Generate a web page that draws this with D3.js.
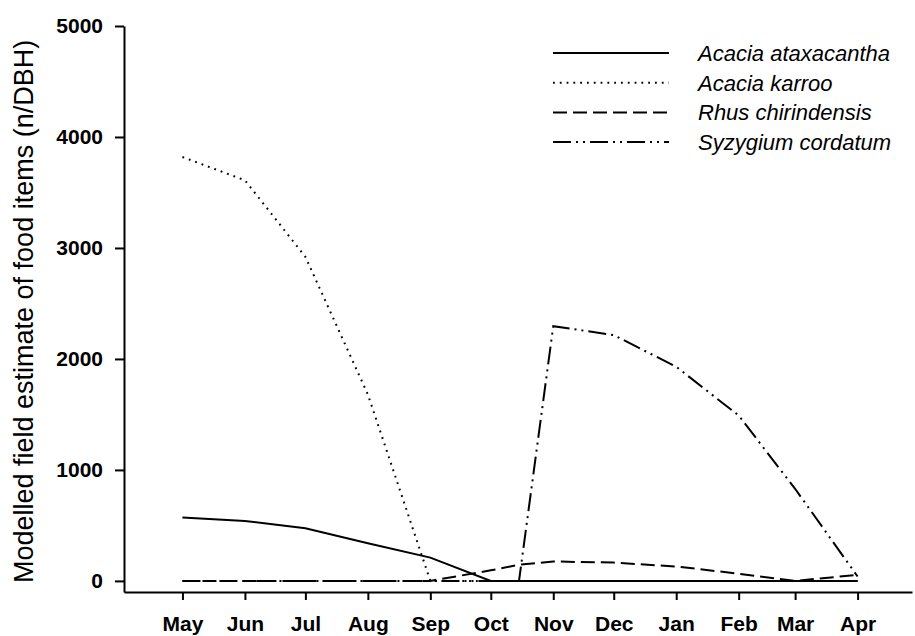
<!DOCTYPE html>
<html>
<head>
<meta charset="utf-8">
<script src="https://cdn.jsdelivr.net/npm/d3@7"></script>
<style>
  body { margin: 0; background: #fff; }
  svg text { font-family: "Liberation Sans", Arial, sans-serif; fill: #000; }
  .axis path, .axis line { stroke: #000; stroke-width: 2; }
  .axis text { font-size: 21px; font-weight: bold; }
  .series { fill: none; stroke: #000; }
</style>
</head>
<body>
<svg id="plot"></svg>
<script>
// sample dates (1st of each month, plus mid-October where S. cordatum starts)
var dates = ['2001-05-01', '2001-06-01', '2001-07-01', '2001-08-01', '2001-09-01',
    '2001-10-01', '2001-10-15', '2001-11-01', '2001-12-01', '2002-01-01',
    '2002-02-01', '2002-03-01', '2002-04-01'];

var tickDates = ['2001-05-01', '2001-06-01', '2001-07-01', '2001-08-01', '2001-09-01',
    '2001-10-01', '2001-11-01', '2001-12-01', '2002-01-01', '2002-02-01',
    '2002-03-01', '2002-04-01'];
var tickLabels = ['May', 'Jun', 'Jul', 'Aug', 'Sep', 'Oct', 'Nov', 'Dec', 'Jan', 'Feb', 'Mar', 'Apr'];

var yTicks = [0, 1000, 2000, 3000, 4000, 5000];

var ataxacantha = [572, 540, 475, 340, 210, 0, 0, 0, 0, 0, 0, 0, 0];
var karroo = [3820, 3610, 2920, 1680, 0, 0, 0, 0, 0, 0, 0, 0, 0];
var rhus = [0, 0, 0, 0, 0, 95, 145, 175, 165, 130, 65, 0, 55];
var syzygium = [0, 0, 0, 0, 0, 0, 0, 2295, 2215, 1930, 1490, 830, 40];

var speciesNames = ['Acacia ataxacantha', 'Acacia karroo', 'Rhus chirindensis', 'Syzygium cordatum'];

var yTitle = 'Modelled field estimate of food items (n/DBH)';

var width = 915, height = 636;
var parseTime = d3.timeParse('%Y-%m-%d');

var svg = d3.select('#plot').attr('width', width).attr('height', height);

var x = d3.scaleTime()
    .domain([parseTime('2001-04-02'), parseTime('2002-04-28')])
    .range([124, 912]);
var y = d3.scaleLinear().domain([-100, 5000]).range([592, 26]);

var dashes = ['none', '1.8,5', '14,6', '18,5,2,5,2,5'];

var series = [ataxacantha, karroo, rhus, syzygium].map(function(vals, i) {
    return {
        name: speciesNames[i],
        dash: dashes[i],
        points: vals.map(function(v, j) { return {date: parseTime(dates[j]), value: v}; })
    };
});

var line = d3.line()
    .x(function(d) { return x(d.date); })
    .y(function(d) { return y(d.value); });

// axes
svg.append('g')
    .attr('class', 'axis')
    .attr('transform', 'translate(0,' + y(-100) + ')')
    .call(d3.axisBottom(x)
        .tickValues(tickDates.map(parseTime))
        .tickFormat(function(d, i) { return tickLabels[i]; })
        .tickSize(8)
        .tickSizeOuter(0)
        .tickPadding(16));

svg.append('g')
    .attr('class', 'axis')
    .attr('transform', 'translate(' + x.range()[0] + ',0)')
    .call(d3.axisLeft(y)
        .tickValues(yTicks)
        .tickFormat(d3.format('d'))
        .tickSize(9)
        .tickSizeOuter(0)
        .tickPadding(12));

svg.append('text')
    .attr('transform', 'translate(33,' + ((y(0) + y(5000)) / 2 + 8) + ') rotate(-90)')
    .attr('text-anchor', 'middle')
    .style('font-size', '27px')
    .text(yTitle);

// lines
series.forEach(function(s) {
    svg.append('path')
        .datum(s.points)
        .attr('class', 'series')
        .attr('stroke-width', 2)
        .attr('stroke-dasharray', s.dash)
        .attr('d', line);
});

// legend
var legend = svg.append('g').attr('transform', 'translate(553,53)');
series.forEach(function(s, i) {
    var g = legend.append('g').attr('transform', 'translate(0,' + (i * 29.7) + ')');
    g.append('line')
        .attr('x1', 0).attr('x2', 116)
        .attr('stroke', '#000')
        .attr('stroke-width', 2)
        .attr('stroke-dasharray', s.dash);
    g.append('text')
        .attr('x', 145)
        .attr('y', 8)
        .style('font-size', '22px')
        .style('font-style', 'italic')
        .text(s.name);
});
</script>
</body>
</html>
